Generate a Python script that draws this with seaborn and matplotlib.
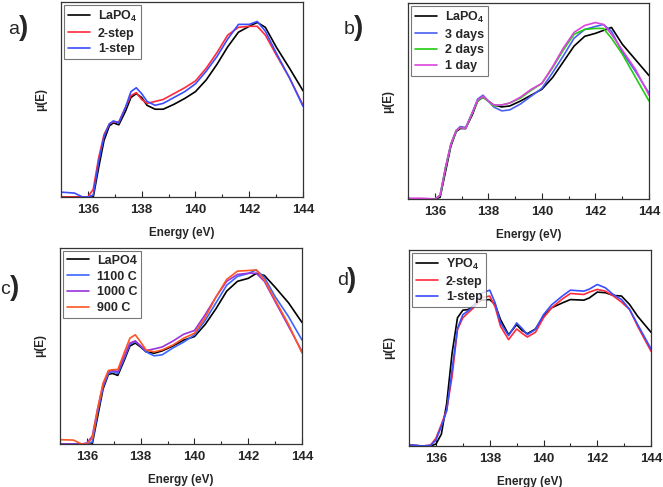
import numpy as np
import pandas as pd
import matplotlib
matplotlib.use("Agg")
import matplotlib.pyplot as plt
import seaborn as sns
from matplotlib.ticker import MultipleLocator

sns.set_theme(style="white")
plt.rcParams['font.family'] = ['Liberation Sans', 'DejaVu Sans']
plt.rcParams['mathtext.fontset'] = 'custom'
plt.rcParams['mathtext.rm'] = 'Liberation Sans:bold'
plt.rcParams['mathtext.bf'] = 'Liberation Sans:bold'
plt.rcParams['mathtext.default'] = 'bf'

# energy grid (eV) for panels a-c
energy = [135.0, 135.5, 135.8, 136.0, 136.2, 136.4, 136.6, 136.8, 136.95, 137.15,
          137.4, 137.6, 137.8, 138.0, 138.2, 138.5, 138.8, 139.2, 139.6, 140.0,
          140.4, 140.8, 141.2, 141.6, 142.0, 142.3, 142.6, 143.0, 143.5, 144.0]

# panel a
a_lapo4 = [0, 0, 0, 0, 0.0, 0.15, 0.29, 0.365, 0.38, 0.37,
           0.44, 0.51, 0.53, 0.51, 0.47, 0.45, 0.45, 0.475, 0.505, 0.54,
           0.6, 0.68, 0.77, 0.845, 0.875, 0.895, 0.87, 0.77, 0.66, 0.545]
a_2step = [0, 0, 0, 0, 0.04, 0.2, 0.32, 0.375, 0.385, 0.385,
           0.46, 0.52, 0.535, 0.5, 0.48, 0.49, 0.5, 0.53, 0.56, 0.595,
           0.66, 0.74, 0.83, 0.87, 0.875, 0.875, 0.83, 0.73, 0.61, 0.47]
a_1step = [0.025, 0.02, 0.0, 0, 0.01, 0.18, 0.31, 0.375, 0.39, 0.38,
           0.46, 0.54, 0.56, 0.53, 0.49, 0.47, 0.48, 0.51, 0.54, 0.58,
           0.645, 0.72, 0.81, 0.885, 0.885, 0.9, 0.85, 0.74, 0.61, 0.465]

# panel b
b_lapo4 = [0, 0, 0, 0, 0.01, 0.14, 0.27, 0.345, 0.36, 0.36,
           0.43, 0.5, 0.52, 0.5, 0.48, 0.47, 0.475, 0.5, 0.53, 0.56,
           0.62, 0.7, 0.78, 0.83, 0.845, 0.86, 0.875, 0.79, 0.71, 0.63]
b_3days = [0, 0, 0, 0, 0.02, 0.16, 0.28, 0.35, 0.37, 0.365,
           0.44, 0.51, 0.53, 0.5, 0.47, 0.45, 0.455, 0.485, 0.525, 0.565,
           0.645, 0.73, 0.82, 0.865, 0.88, 0.89, 0.855, 0.75, 0.65, 0.54]
b_2days = [0, 0, 0, 0, 0.02, 0.16, 0.28, 0.35, 0.365, 0.36,
           0.44, 0.5, 0.52, 0.5, 0.475, 0.48, 0.49, 0.515, 0.555, 0.59,
           0.67, 0.76, 0.84, 0.865, 0.87, 0.87, 0.82, 0.74, 0.62, 0.5]
b_1day = [0.005, 0.005, 0.003, 0, 0.02, 0.16, 0.28, 0.35, 0.365, 0.36,
          0.44, 0.505, 0.525, 0.5, 0.48, 0.48, 0.49, 0.52, 0.56, 0.59,
          0.675, 0.77, 0.85, 0.885, 0.9, 0.89, 0.84, 0.76, 0.66, 0.53]

# panel c
c_lapo4 = [0, 0, 0, 0, 0.0, 0.14, 0.28, 0.355, 0.36, 0.35,
           0.43, 0.5, 0.515, 0.495, 0.47, 0.463, 0.475, 0.5, 0.53, 0.548,
           0.61, 0.69, 0.78, 0.83, 0.845, 0.87, 0.86, 0.8, 0.72, 0.62]
c_1100 = [0, 0, 0, 0, 0.01, 0.16, 0.29, 0.36, 0.37, 0.36,
          0.44, 0.51, 0.523, 0.5, 0.47, 0.45, 0.455, 0.49, 0.52, 0.557,
          0.63, 0.72, 0.81, 0.855, 0.87, 0.888, 0.85, 0.752, 0.65, 0.53]
c_1000 = [0, 0, 0, 0.005, 0.04, 0.18, 0.3, 0.37, 0.375, 0.37,
          0.45, 0.515, 0.526, 0.5, 0.477, 0.485, 0.495, 0.525, 0.56, 0.579,
          0.66, 0.75, 0.83, 0.865, 0.871, 0.871, 0.83, 0.727, 0.6, 0.472]
c_900 = [0.022, 0.02, 0.0, 0, 0.03, 0.18, 0.31, 0.375, 0.379, 0.38,
         0.47, 0.54, 0.557, 0.52, 0.48, 0.47, 0.48, 0.505, 0.54, 0.565,
         0.645, 0.75, 0.84, 0.882, 0.885, 0.888, 0.837, 0.735, 0.61, 0.464]

# panel d (own grid)
energy_d = [135.0, 135.5, 135.8, 136.0, 136.2, 136.4, 136.6, 136.8, 137.0, 137.2,
            137.4, 137.7, 138.0, 138.2, 138.4, 138.7, 139.0, 139.2, 139.4, 139.7,
            140.0, 140.3, 140.7, 141.0, 141.5, 141.7, 142.0, 142.3, 142.6, 142.9,
            143.2, 143.5, 144.0]
d_ypo4 = [0.005, 0, 0, 0.01, 0.06, 0.218, 0.474, 0.654, 0.693, 0.696,
          0.717, 0.744, 0.747, 0.722, 0.645, 0.568, 0.619, 0.59, 0.573, 0.597,
          0.662, 0.705, 0.73, 0.747, 0.744, 0.755, 0.785, 0.782, 0.768, 0.765,
          0.722, 0.662, 0.58]
d_2step = [0.005, 0, 0.005, 0.04, 0.11, 0.185, 0.355, 0.594, 0.654, 0.68,
           0.705, 0.756, 0.765, 0.71, 0.611, 0.543, 0.597, 0.575, 0.556, 0.58,
           0.654, 0.705, 0.75, 0.778, 0.773, 0.785, 0.799, 0.79, 0.765, 0.734,
           0.697, 0.611, 0.483]
d_1step = [0.005, 0, 0.003, 0.03, 0.1, 0.18, 0.39, 0.6, 0.67, 0.69,
           0.715, 0.78, 0.795, 0.73, 0.628, 0.563, 0.628, 0.6, 0.568, 0.595,
           0.67, 0.72, 0.765, 0.795, 0.79, 0.8, 0.824, 0.807, 0.772, 0.747,
           0.697, 0.62, 0.495]

panels = [
    ("a", [0.092, 0.5955, 0.365, 0.4005], energy,
     [("LaPO$_4$", a_lapo4, "black"), ("2-step", a_2step, "#ff2a3a"),
      ("1-step", a_1step, "#3a4dff")], (0.013, 0.94)),
    ("b", [0.6154, 0.591, 0.3635, 0.403], energy,
     [("LaPO$_4$", b_lapo4, "black"), ("3 days", b_3days, "#4a60f0"),
      ("2 days", b_2days, "#22cc11"), ("1 day", b_1day, "#dd44dd")], (0.519, 0.94)),
    ("c", [0.0905, 0.0883, 0.365, 0.4025], energy,
     [("LaPO4", c_lapo4, "black"), ("1100 C", c_1100, "#3a66ff"),
      ("1000 C", c_1000, "#9933dd"), ("900 C", c_900, "#ff5522")], (0.0, 0.405)),
    ("d", [0.617, 0.0842, 0.365, 0.4025], energy_d,
     [("YPO$_4$", d_ypo4, "black"), ("2-step", d_2step, "#ff2a3a"),
      ("1-step", d_1step, "#3a4dff")], (0.508, 0.423)),
]

fig = plt.figure(figsize=(6.63, 4.87), dpi=100)

for letter, rect, xs, series, lpos in panels:
    ax = fig.add_axes(rect)
    for name, vals, col in series:
        sns.lineplot(x=xs, y=vals, color=col, label=name, ax=ax, linewidth=1.2)
    ax.set_xlim(135, 144)
    ax.set_ylim(0, 1.0)
    ax.set_yticks([])
    ax.xaxis.set_major_locator(MultipleLocator(2))
    ax.xaxis.set_minor_locator(MultipleLocator(1))
    ax.tick_params(axis="x", which="major", direction="in", length=4, width=0.8,
                   bottom=True, labelsize=9.5, pad=5)
    ax.tick_params(axis="x", which="minor", direction="in", length=2.5, width=0.8,
                   bottom=True)
    for lab in ax.get_xticklabels():
        lab.set_fontweight("bold")
    for sp in ax.spines.values():
        sp.set_color("#333333")
        sp.set_linewidth(0.9)
    ax.set_xlabel("Energy (eV)", fontsize=8.5, fontweight="bold", labelpad=8)
    ax.set_ylabel("μ(E)", fontsize=8.5, fontweight="bold", labelpad=10)
    leg = ax.legend(loc="upper left", prop={"weight": "bold", "size": 9},
                    frameon=True, fancybox=False, borderaxespad=0.25,
                    handlelength=1.8, labelspacing=0.3, borderpad=0.3,
                    handletextpad=0.6)
    leg.get_frame().set_edgecolor("#555555")
    leg.get_frame().set_linewidth(0.8)
    fig.text(lpos[0], lpos[1], letter, fontsize=14, va="center", ha="left")
    fig.text(lpos[0] + 0.015, lpos[1] + 0.003, ")", fontsize=20, fontweight="bold",
             va="center", ha="left")

fig.savefig("out.png", dpi=100)
